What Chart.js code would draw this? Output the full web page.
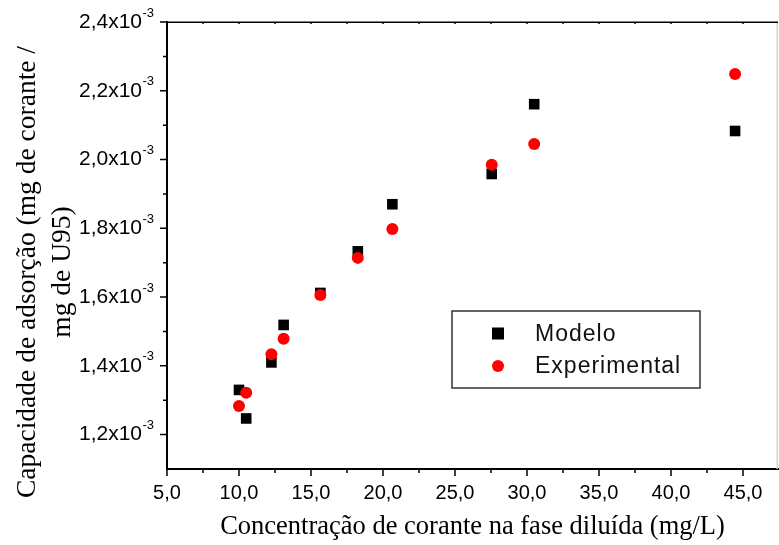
<!DOCTYPE html>
<html><head><meta charset="utf-8">
<script src="https://cdn.jsdelivr.net/npm/chart.js@4/dist/chart.umd.min.js"></script>
<style>html,body{margin:0;padding:0;background:#fff;}#wrap{width:779px;height:545px;position:relative;}</style>
</head><body><div id="wrap"><canvas id="c" width="779" height="545"></canvas></div>
<script>
// ---- data ----
const seriesNames = ["Modelo", "Experimental"];
const xModelo = [10.0, 10.5, 12.25, 13.1, 15.65, 18.25, 20.65, 27.55, 30.5, 44.45];
const yModelo = [1.330e-3, 1.247e-3, 1.410e-3, 1.519e-3, 1.612e-3, 1.733e-3, 1.870e-3, 1.958e-3, 2.161e-3, 2.083e-3];
const xExperimental = [10.0, 10.5, 12.25, 13.1, 15.65, 18.25, 20.65, 27.55, 30.5, 44.45];
const yExperimental = [1.283e-3, 1.322e-3, 1.434e-3, 1.479e-3, 1.606e-3, 1.714e-3, 1.798e-3, 1.985e-3, 2.045e-3, 2.249e-3];
const xTickValues = [5, 10, 15, 20, 25, 30, 35, 40, 45];
const xTickLabels = ["5,0", "10,0", "15,0", "20,0", "25,0", "30,0", "35,0", "40,0", "45,0"];
const xMinorValues = [7.5, 12.5, 17.5, 22.5, 27.5, 32.5, 37.5, 42.5];
const yTickValues = [1.2e-3, 1.4e-3, 1.6e-3, 1.8e-3, 2.0e-3, 2.2e-3, 2.4e-3];
const yTickLabels = ["1,2x10", "1,4x10", "1,6x10", "1,8x10", "2,0x10", "2,2x10", "2,4x10"];
const yMinorValues = [1.3e-3, 1.5e-3, 1.7e-3, 1.9e-3, 2.1e-3, 2.3e-3];
const yTickExponent = "-3";
const xTitle = "Concentração de corante na fase diluída (mg/L)";
const yTitleLines = ["Capacidade de adsorção (mg de corante /", "mg de U95)"];

const SANS = '"Liberation Sans", Arial, sans-serif';
const SERIF = '"Liberation Serif", "Times New Roman", serif';

const decor = {
  id: 'decor',
  afterDraw(chart) {
    const { ctx, chartArea: a, scales: { x, y } } = chart;
    ctx.save();
    // right border (light)
    ctx.strokeStyle = '#d4d4d4'; ctx.lineWidth = 1.5;
    ctx.beginPath(); ctx.moveTo(a.right - 0.75, a.top); ctx.lineTo(a.right - 0.75, a.bottom); ctx.stroke();
    // top border
    ctx.strokeStyle = '#000'; ctx.lineWidth = 1.5;
    ctx.beginPath(); ctx.moveTo(a.left, a.top + 0.25); ctx.lineTo(a.right, a.top + 0.25); ctx.stroke();
    // ticks
    ctx.lineWidth = 1.5;
    ctx.beginPath();
    xTickValues.forEach(v => { const p = x.getPixelForValue(v); ctx.moveTo(p, a.bottom); ctx.lineTo(p, a.bottom + 7); ctx.moveTo(p, a.top); ctx.lineTo(p, a.top + 2); });
    xMinorValues.forEach(v => { const p = x.getPixelForValue(v); ctx.moveTo(p, a.bottom); ctx.lineTo(p, a.bottom + 4); ctx.moveTo(p, a.top); ctx.lineTo(p, a.top + 2); });
    yTickValues.forEach(v => { const p = y.getPixelForValue(v); ctx.moveTo(a.left, p); ctx.lineTo(a.left - 7, p); });
    yMinorValues.forEach(v => { const p = y.getPixelForValue(v); ctx.moveTo(a.left, p); ctx.lineTo(a.left - 4, p); });
    ctx.stroke();
    // exponents of y tick labels
    ctx.fillStyle = '#000';
    ctx.font = '13px ' + SANS; ctx.textAlign = 'left'; ctx.textBaseline = 'middle';
    const labRight = y.right - y.options.ticks.padding;
    yTickValues.forEach(v => { const p = y.getPixelForValue(v); ctx.fillText(yTickExponent, labRight + 0.5, p - 9); });
    // y title (two lines)
    ctx.font = '27.5px ' + SERIF; ctx.textAlign = 'center'; ctx.textBaseline = 'alphabetic';
    const cy = 272;
    [[35, yTitleLines[0]], [70, yTitleLines[1]]].forEach(([bx, t]) => {
      ctx.save(); ctx.translate(bx, cy); ctx.rotate(-Math.PI / 2); ctx.fillText(t, 0, 0); ctx.restore();
    });
    // legend
    ctx.strokeStyle = '#333'; ctx.lineWidth = 1.5;
    ctx.strokeRect(452, 311, 248, 77);
    const ds = chart.data.datasets;
    const rows = [{ d: ds.find(d => d.label === seriesNames[0]), yy: 333.5 }, { d: ds.find(d => d.label === seriesNames[1]), yy: 366 }];
    rows.forEach(r => {
      ctx.fillStyle = r.d.backgroundColor;
      if (r.d.pointStyle === 'rect') { ctx.fillRect(498 - 6, r.yy - 6, 12, 12); }
      else { ctx.beginPath(); ctx.arc(498, r.yy, 6, 0, Math.PI * 2); ctx.fill(); }
      ctx.fillStyle = '#111'; ctx.font = '23px ' + SANS; ctx.textAlign = 'left'; ctx.textBaseline = 'middle';
      if ('letterSpacing' in ctx) ctx.letterSpacing = '1px';
      ctx.fillText(r.d.label, 535, r.yy + 1);
      if ('letterSpacing' in ctx) ctx.letterSpacing = '0px';
    });
    ctx.restore();
  }
};

new Chart(document.getElementById('c').getContext('2d'), {
  type: 'scatter',
  data: {
    datasets: [
      { label: seriesNames[1], order: 0, data: xExperimental.map((v, i) => ({ x: v, y: yExperimental[i] })), pointStyle: 'circle', radius: 6, backgroundColor: '#ff0000', borderColor: '#ff0000', borderWidth: 0 },
      { label: seriesNames[0], order: 1, data: xModelo.map((v, i) => ({ x: v, y: yModelo[i] })), pointStyle: 'rect', radius: 7.5, backgroundColor: '#000000', borderColor: '#000000', borderWidth: 0 }
    ]
  },
  options: {
    responsive: false, animation: false, devicePixelRatio: 1,
    layout: { autoPadding: false, padding: { top: 22, right: 1, left: 0, bottom: 0 } },
    plugins: { legend: { display: false }, tooltip: { enabled: false } },
    scales: {
      x: {
        type: 'linear', min: 5, max: 47.43,
        afterBuildTicks: s => { s.ticks = xTickValues.map(v => ({ value: v })); },
        afterFit: s => { s.height = 76; s.paddingLeft = 0; s.paddingRight = 0; },
        grid: { display: false, drawTicks: false },
        border: { display: true, color: '#000', width: 2 },
        ticks: { color: '#000', font: { family: SANS, size: 20 }, padding: 12, maxRotation: 0, autoSkip: false, callback: (v, i) => xTickLabels[i] },
        title: { display: true, text: xTitle, color: '#000', font: { family: SERIF, size: 26.5, weight: 'normal' }, padding: { top: 0, bottom: 2 } }
      },
      y: {
        type: 'linear', min: 1.1e-3, max: 2.4e-3,
        afterBuildTicks: s => { s.ticks = yTickValues.map(v => ({ value: v })); },
        afterFit: s => { s.width = 167; s.paddingTop = 0; s.paddingBottom = 0; },
        grid: { display: false, drawTicks: false },
        border: { display: true, color: '#000', width: 2 },
        ticks: { color: '#000', font: { family: SANS, size: 21 }, padding: 25, autoSkip: false, callback: (v, i) => yTickLabels[i] }
      }
    }
  },
  plugins: [decor]
});
</script></body></html>
